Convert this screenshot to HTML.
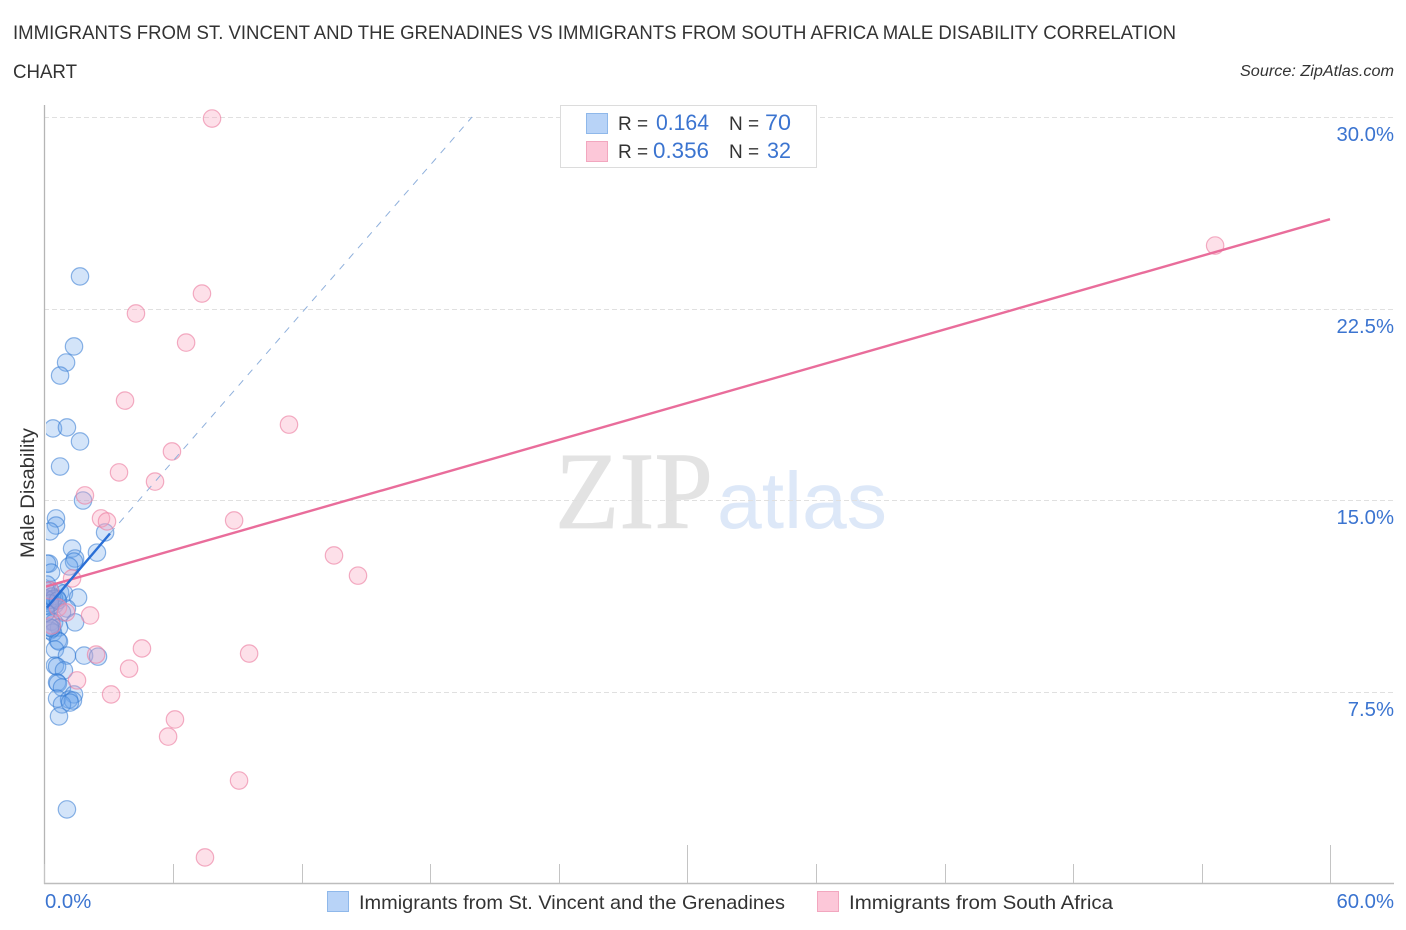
<!DOCTYPE html>
<html>
<head>
<meta charset="utf-8">
<title>Male Disability Correlation Chart</title>
<style>
html,body{margin:0;padding:0;background:#fff;width:1406px;height:930px;overflow:hidden}
svg{display:block;font-family:"Liberation Sans",sans-serif}
</style>
</head>
<body>
<svg id="chart" width="1406" height="930" viewBox="0 0 1406 930" xmlns="http://www.w3.org/2000/svg">
  <defs>
    <clipPath id="plot-clip"><rect x="46" y="100" width="1360" height="784"/></clipPath>
  </defs>
  <text x="13" y="39" font-size="19" fill="#333" textLength="1163" lengthAdjust="spacingAndGlyphs">IMMIGRANTS FROM ST. VINCENT AND THE GRENADINES VS IMMIGRANTS FROM SOUTH AFRICA MALE DISABILITY CORRELATION</text>
  <text x="13" y="78" font-size="19" fill="#333" textLength="64" lengthAdjust="spacingAndGlyphs">CHART</text>
  <text x="1394" y="76" font-size="15.5" font-style="italic" fill="#333" text-anchor="end" textLength="154" lengthAdjust="spacingAndGlyphs">Source: ZipAtlas.com</text>

  <g>
    <text x="555" y="528" font-size="110" font-family="'Liberation Serif',serif" fill="#e3e3e3" stroke="#e3e3e3" stroke-width="0.8" textLength="158" lengthAdjust="spacingAndGlyphs">ZIP</text>
    <text x="717" y="528" font-size="80" fill="#dde8f8" textLength="170" lengthAdjust="spacingAndGlyphs">atlas</text>
  </g>

  <g id="grid"></g>
  <g id="axes"></g>
  <g id="blue-points" clip-path="url(#plot-clip)"></g>
  <g id="pink-points" clip-path="url(#plot-clip)"></g>
  <g id="trends" clip-path="url(#plot-clip)"></g>

  <text transform="translate(34,493) rotate(-90)" font-size="19" fill="#333" text-anchor="middle" textLength="130" lengthAdjust="spacingAndGlyphs">Male Disability</text>

  <g>
    <rect x="560.5" y="105.5" width="256" height="62" fill="#fff" stroke="#dcdcdc"/>
    <rect x="586.5" y="113.5" width="21" height="20" fill="#b8d3f7" stroke="#8fb8ea"/>
    <rect x="586.5" y="141.5" width="21" height="20" fill="#fcc7d8" stroke="#f2a7bf"/>
    <text x="618" y="130" font-size="19" fill="#333">R =</text>
    <text x="709" y="130" font-size="22" fill="#3b74d0" text-anchor="end" textLength="53" lengthAdjust="spacingAndGlyphs">0.164</text>
    <text x="729" y="130" font-size="19" fill="#333">N =</text>
    <text x="791" y="130" font-size="22" fill="#3b74d0" text-anchor="end" textLength="26" lengthAdjust="spacingAndGlyphs">70</text>
    <text x="618" y="158" font-size="19" fill="#333">R =</text>
    <text x="709" y="158" font-size="22" fill="#3b74d0" text-anchor="end" textLength="56" lengthAdjust="spacingAndGlyphs">0.356</text>
    <text x="729" y="158" font-size="19" fill="#333">N =</text>
    <text x="791" y="158" font-size="22" fill="#3b74d0" text-anchor="end" textLength="24" lengthAdjust="spacingAndGlyphs">32</text>
  </g>

  <g>
    <rect x="327.5" y="891.5" width="21" height="20" fill="#b8d3f7" stroke="#8fb8ea"/>
    <text x="359" y="909" font-size="19.5" fill="#333" textLength="426" lengthAdjust="spacingAndGlyphs">Immigrants from St. Vincent and the Grenadines</text>
    <rect x="817.5" y="891.5" width="21" height="20" fill="#fcc7d8" stroke="#f2a7bf"/>
    <text x="849" y="909" font-size="19.5" fill="#333" textLength="264" lengthAdjust="spacingAndGlyphs">Immigrants from South Africa</text>
  </g>
</svg>
<script>
const yTickValues = [7.5, 15, 22.5, 30];
const yTickLabels = ["7.5%", "15.0%", "22.5%", "30.0%"];
const xTickValues = [0, 6, 12, 18, 24, 30, 36, 42, 48, 54, 60];
const xMajorTicks = [30, 60];
const xEndLabels = ["0.0%", "60.0%"];

const blueX = [1.68,1.40,1.03,.75,.42,1.07,1.68,.75,1.82,.56,.56,.28,1.31,2.47,2.85,1.45,1.40,1.17,.23,.14,.33,.14,.28,.75,.93,1.59,.19,.37,.51,.61,.14,.28,1.07,.84,1.45,.33,.47,.70,.28,.42,.65,.70,.51,1.07,1.87,2.52,.51,.61,.93,.61,.65,.84,1.40,.61,1.17,1.35,.84,1.21,.70,1.07,.28,.09,.37,.09,.47,.28,.65,.37,.28,.09];
const blueY = [23.76,21.02,20.39,19.88,17.81,17.85,17.30,16.32,14.99,14.29,14.01,13.78,13.11,12.95,13.74,12.72,12.60,12.41,12.52,12.52,12.17,11.70,11.47,11.39,11.35,11.19,11.08,11.0,10.92,11.15,10.88,10.84,10.76,10.61,10.22,10.25,10.22,10.02,9.90,9.82,9.51,9.47,9.16,8.92,8.92,8.88,8.53,8.49,8.34,7.87,7.83,7.67,7.40,7.24,7.20,7.16,7.01,7.08,6.54,2.90,11.1,11.47,11.23,11.15,11.15,10.96,11.08,9.98,10.02,10.6];

const pinkX = [7.84,7.37,4.29,6.63,3.78,11.43,5.97,3.50,5.18,1.91,2.66,2.94,8.87,13.53,14.65,1.31,.28,54.64,2.15,.65,1.03,.37,4.57,9.57,2.43,3.97,1.54,3.13,6.11,5.79,9.10,7.51];
const pinkY = [29.94,23.09,22.31,21.17,18.90,17.96,16.91,16.09,15.73,15.19,14.29,14.17,14.21,12.84,12.05,11.94,11.47,24.97,10.49,10.80,10.61,10.10,9.20,9.0,8.96,8.41,7.95,7.40,6.42,5.75,4.03,1.02];

const blueTrendX = [0.14, 3.08];
const blueTrendY = [10.8, 13.7];
const blueDashX = [3.08, 19.97];
const blueDashY = [13.7, 30];
const pinkTrendX = [0, 60];
const pinkTrendY = [11.6, 26.0];

const NS = "http://www.w3.org/2000/svg";
function xScale(v) { return 44 + v * (1286 / 60); }
function yScale(v) { return 883.5 - v * (766.5 / 30); }
function make(tag, attrs, parent) {
  const el = document.createElementNS(NS, tag);
  for (const k in attrs) el.setAttribute(k, attrs[k]);
  parent.appendChild(el);
  return el;
}

const grid = document.getElementById("grid");
const axes = document.getElementById("axes");
yTickValues.forEach(function (v, i) {
  const y = Math.round(yScale(v)) + 0.5;
  const line = make("line", {x1: 44, x2: 1393, y1: y, y2: y, stroke: "#e0e0e0", "stroke-width": 1, "stroke-dasharray": "5 3"}, grid);
  
  
  const label = make("text", {x: 1394, y: y + 23.5, "font-size": 20.3, fill: "#3b74d0", "text-anchor": "end"}, axes);
  label.textContent = yTickLabels[i];
  
  
});

const yAxis = make("line", {x1: 44.5, x2: 44.5, y1: 105, y2: 884, stroke: "#b5b5b5", "stroke-width": 1.3}, axes);


const xAxis = make("line", {x1: 44, x2: 1394, y1: 883.5, y2: 883.5, stroke: "#bdbdbd", "stroke-width": 1.4}, axes);


xTickValues.forEach(function (v) {
  const x = Math.round(xScale(v) + 0.3) + 0.5;
  const top = xMajorTicks.indexOf(v) >= 0 ? 845 : 864;
  const tick = make("line", {x1: x, x2: x, y1: top, y2: 883, stroke: "#c4c4c4", "stroke-width": 1}, axes);
  
  
});
const xLabelLeft = make("text", {x: 45, y: 908, "font-size": 20.3, fill: "#3b74d0"}, axes);
xLabelLeft.textContent = xEndLabels[0];


const xLabelRight = make("text", {x: 1394, y: 908, "font-size": 20.3, fill: "#3b74d0", "text-anchor": "end"}, axes);
xLabelRight.textContent = xEndLabels[1];



const blueGroup = document.getElementById("blue-points");
blueX.forEach(function (v, i) {
  const c = make("circle", {cx: xScale(v), cy: yScale(blueY[i]), r: 8.7, fill: "rgba(110,165,235,0.3)", stroke: "rgba(50,120,210,0.55)", "stroke-width": 1.2}, blueGroup);
  
  
});
const pinkGroup = document.getElementById("pink-points");
pinkX.forEach(function (v, i) {
  const c = make("circle", {cx: xScale(v), cy: yScale(pinkY[i]), r: 8.7, fill: "rgba(249,165,192,0.35)", stroke: "rgba(236,130,165,0.65)", "stroke-width": 1.2}, pinkGroup);
  
  
});

const trends = document.getElementById("trends");
const blueDash = make("line", {x1: xScale(blueDashX[0]), y1: yScale(blueDashY[0]), x2: xScale(blueDashX[1]), y2: yScale(blueDashY[1]), stroke: "#8fb0dc", "stroke-width": 1, "stroke-dasharray": "7 7"}, trends);


const pinkTrend = make("line", {x1: xScale(pinkTrendX[0]), y1: yScale(pinkTrendY[0]), x2: xScale(pinkTrendX[1]), y2: yScale(pinkTrendY[1]), stroke: "#e96d9b", "stroke-width": 2.4}, trends);


const blueTrend = make("line", {x1: xScale(blueTrendX[0]), y1: yScale(blueTrendY[0]), x2: xScale(blueTrendX[1]), y2: yScale(blueTrendY[1]), stroke: "#2a6fd6", "stroke-width": 2.4}, trends);


</script>
</body>
</html>
